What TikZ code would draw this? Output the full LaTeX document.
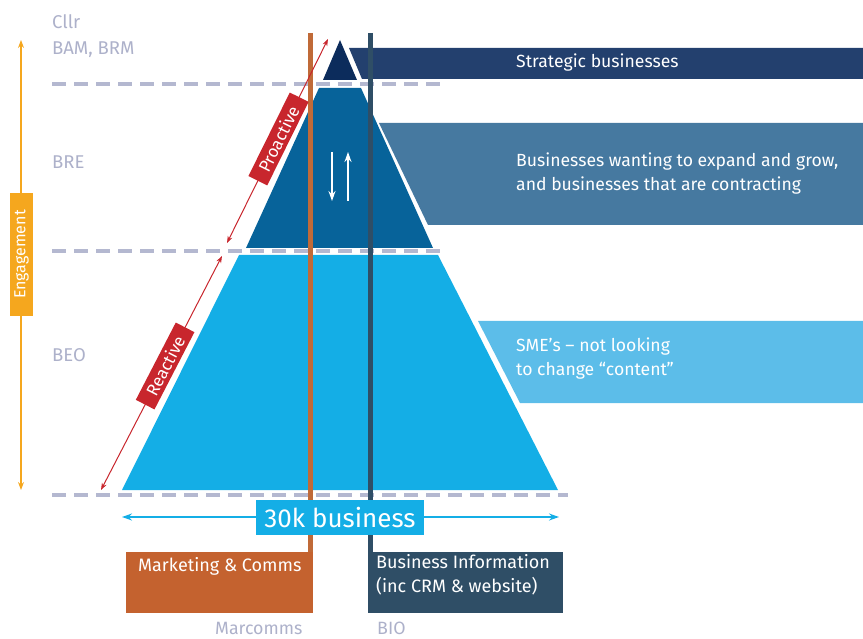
\documentclass[tikz,border=0pt]{standalone}
\usepackage{fontspec}
\setmainfont{Fira Sans}
\usetikzlibrary{arrows.meta}
\definecolor{navy}{HTML}{0C2C5C}
\definecolor{navybar}{HTML}{23406E}
\definecolor{midblue}{HTML}{07639A}
\definecolor{midpanel}{HTML}{4679A0}
\definecolor{lightblue}{HTML}{14AEE6}
\definecolor{lightpanel}{HTML}{5CBDE9}
\definecolor{orangec}{HTML}{C4622F}
\definecolor{orangeline}{HTML}{C06A38}
\definecolor{slate}{HTML}{2F4E66}
\definecolor{redc}{HTML}{C8262D}
\definecolor{yellowc}{HTML}{F5A71E}
\definecolor{grayc}{HTML}{ADB1CA}
\definecolor{dashc}{HTML}{B4B8D0}
\tikzset{
  sepline/.style={dashc, line width=3.5pt, dash pattern=on 14pt off 8pt},
  lvl/.style={grayc, anchor=west, inner sep=0pt, font=\fontsize{18.5}{21}\selectfont},
  paneltext/.style={white, anchor=west, inner sep=0pt, align=left, font=\fontsize{17.6}{24}\selectfont},
  boxtext/.style={white, font=\fontsize{18}{24}\selectfont},
  vline/.style={line width=5pt},
  redarrow/.style={redc, line width=1pt, {Stealth[length=7pt,width=5pt]}-{Stealth[length=7pt,width=5pt]}},
  redlabel/.style={fill=redc, text=white, font=\fontsize{17}{18}\selectfont, inner xsep=11pt, inner ysep=2pt, minimum height=21pt, sloped},
}
\begin{document}
\begin{tikzpicture}[x=1pt,y=-1pt]
\useasboundingbox (0,0) rectangle (863,639);
% separators
\coordinate (s1a) at (52,84); \coordinate (s1b) at (445,84);
\coordinate (s2a) at (52,251); \coordinate (s2b) at (445,251);
\coordinate (s3a) at (52,495); \coordinate (s3b) at (568,495);
\draw[sepline] (s1a) -- (s1b);
\draw[sepline] (s2a) -- (s2b);
\draw[sepline] (s3a) -- (s3b);
% pyramid
\fill[navy] (340,40) -- (357,80) -- (323,80) -- cycle;
\fill[midblue] (319,88) -- (361,88) -- (433,248) -- (246,248) -- cycle;
\fill[lightblue] (239,255) -- (438,255) -- (558,490) -- (122,490) -- cycle;
% panels
\fill[navybar] (349,48) -- (863,48) -- (863,79) -- (362,79) -- cycle;
\fill[midpanel] (379,123) -- (863,123) -- (863,225) -- (428,225) -- cycle;
\fill[lightpanel] (478,321) -- (863,321) -- (863,403) -- (520,403) -- cycle;
\node[paneltext] (t1) at (516,63) {Strategic businesses};
\node[paneltext] (t2) at (516,174) {Businesses wanting to expand and grow,\\and businesses that are contracting};
\node[paneltext] (t3) at (516,359) {SME’s – not looking\\to change “content”};
% level labels
\node[lvl] (cllr) at (52,22) {Cllr};
\node[lvl] (bam) at (52,50) {BAM, BRM};
\node[lvl] (bre) at (52,162) {BRE};
\node[lvl] (beo) at (52,355) {BEO};
% bottom boxes
\node[fill=orangec, minimum width=187pt, minimum height=61pt, inner sep=0pt, anchor=north west] (mc) at (126,552) {};
\node[boxtext, anchor=west, inner sep=0pt] (mct) at (138,566) {Marketing \& Comms};
\node[fill=slate, minimum width=195pt, minimum height=61pt, inner sep=0pt, anchor=north west] (bi) at (368,552) {};
\node[boxtext, anchor=north west, align=left, inner sep=0pt] (bit) at (376,554) {Business Information\\(inc CRM \& website)};
\node[lvl, font=\fontsize{17.8}{20}\selectfont] (marc) at (215,628) {Marcomms};
\node[lvl, font=\fontsize{17.8}{20}\selectfont] (bio) at (377,628) {BIO};
% vertical lines
\coordinate (otop) at (310,33);
\coordinate (stop) at (370,33);
\draw[vline, orangeline] (otop) -- (otop |- mc.north);
\draw[vline, slate] (stop) -- (stop |- bi.north);
% white arrows
\coordinate (d1) at (332,152); \coordinate (d2) at (332,201);
\coordinate (u1) at (348,201); \coordinate (u2) at (348,152);
\draw[white, line width=1.8pt, -{Stealth[length=10pt,width=7pt]}] (d1) -- (d2);
\draw[white, line width=1.8pt, -{Stealth[length=10pt,width=7pt]}] (u1) -- (u2);
% 30k
\coordinate (aL) at (122,517); \coordinate (aR) at (559,517);
\draw[lightblue, line width=1.6pt, {Stealth[length=10pt,width=7pt]}-{Stealth[length=10pt,width=7pt]}] (aL) -- (aR);
\node[fill=lightblue, text=white, minimum width=168pt, minimum height=35pt, inner sep=0pt, font=\fontsize{26}{30}\selectfont] (k30) at (340,517.5) {30k business};
% red arrows
\coordinate (p1) at (227,243); \coordinate (p2) at (328,39);
\coordinate (r1) at (101,490); \coordinate (r2) at (222,256);
\draw[redarrow] (p1) -- node[redlabel, pos=0.51] (pro) {Proactive} (p2);
\draw[redarrow] (r1) -- node[redlabel, pos=0.53] (rea) {Reactive} (r2);
% engagement
\coordinate (e1) at (21,40); \coordinate (e2) at (21,490);
\draw[yellowc, line width=1.3pt, {Stealth[length=8pt,width=6pt]}-{Stealth[length=8pt,width=6pt]}] (e1) -- (e2);
\node[fill=yellowc, text=white, rotate=90, minimum width=123pt, minimum height=23pt, inner sep=0pt, font=\fontsize{16}{18}\selectfont] (eng) at (21.5,254.5) {Engagement};
\end{tikzpicture}
\end{document}
